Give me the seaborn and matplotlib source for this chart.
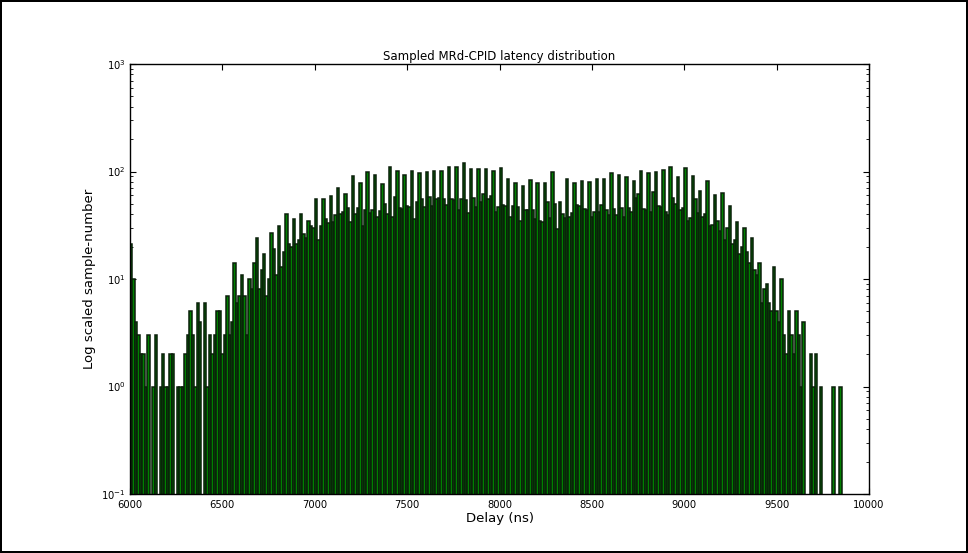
import numpy as np
import pandas as pd
import matplotlib
matplotlib.use("Agg")
import matplotlib.pyplot as plt
import seaborn as sns
from matplotlib.ticker import LogLocator, FixedLocator, NullFormatter

# Histogram layout: 300 equal bins spanning the delay window (ns)
BIN_START = 6000.0
BIN_STOP = 10000.0
N_BINS = 300

# Sample counts per bin
counts = [
    21, 10, 4, 3, 2, 2, 1, 3, 0, 1,
    3, 0, 1, 2, 1, 1, 2, 2, 0, 1,
    1, 1, 2, 3, 5, 3, 1, 6, 4, 0,
    6, 1, 3, 2, 3, 5, 5, 2, 3, 7,
    3, 4, 14, 6, 7, 11, 7, 3, 10, 8,
    14, 24, 8, 12, 17, 7, 10, 27, 19, 11,
    31, 13, 18, 40, 21, 20, 36, 21, 23, 40,
    26, 24, 35, 31, 30, 56, 23, 31, 55, 36,
    33, 59, 34, 39, 70, 40, 42, 62, 46, 34,
    90, 40, 46, 78, 31, 44, 100, 41, 44, 92,
    38, 43, 76, 50, 40, 110, 38, 58, 102, 46,
    45, 93, 48, 47, 102, 36, 52, 96, 56, 47,
    100, 58, 48, 102, 56, 57, 102, 55, 49, 111,
    56, 54, 110, 44, 55, 120, 54, 41, 106, 57,
    47, 106, 52, 62, 106, 55, 59, 102, 42, 47,
    108, 49, 48, 85, 38, 48, 79, 47, 35, 73,
    44, 44, 84, 44, 36, 79, 35, 34, 78, 52,
    37, 100, 50, 29, 52, 40, 37, 86, 38, 41,
    78, 49, 48, 81, 45, 44, 80, 38, 42, 85,
    42, 49, 85, 44, 39, 96, 45, 39, 93, 46,
    38, 88, 46, 42, 82, 57, 62, 102, 45, 44,
    96, 42, 64, 100, 48, 47, 104, 42, 39, 110,
    57, 50, 88, 44, 46, 107, 35, 37, 90, 56,
    41, 66, 38, 40, 82, 31, 32, 60, 35, 28,
    63, 23, 30, 48, 21, 23, 34, 17, 20, 30,
    18, 14, 24, 12, 11, 14, 6, 8, 9, 6,
    5, 13, 5, 4, 10, 3, 2, 5, 3, 2,
    5, 3, 1, 4, 0, 0, 2, 1, 2, 0,
    1, 0, 0, 0, 0, 1, 0, 0, 1, 0,
    0, 0, 0, 0, 0, 0, 0, 0, 0, 0,
]
assert len(counts) == N_BINS

x_ticks = [6000, 6500, 7000, 7500, 8000, 8500, 9000, 9500, 10000]
y_limits = (1e-1, 1e3)

title = "Sampled MRd-CPID latency distribution"
x_label = "Delay (ns)"
y_label = "Log scaled sample-number"

edges = np.linspace(BIN_START, BIN_STOP, N_BINS + 1)
centers = 0.5 * (edges[:-1] + edges[1:])
df = pd.DataFrame({"delay": centers, "count": counts})

sns.set_style("ticks")
plt.rcParams.update({
    "font.family": ["DejaVu Sans"],
    "axes.edgecolor": "black",
    "axes.linewidth": 1.0,
    "xtick.color": "black",
    "ytick.color": "black",
    "text.color": "black",
    "axes.labelcolor": "black",
})

W, H = 968, 553
fig = plt.figure(figsize=(W / 100, H / 100), dpi=100)
ax = fig.add_axes([130 / W, 1 - 494 / H, 739 / W, 430 / H])

sns.histplot(
    data=df, x="delay", weights="count",
    bins=N_BINS, binrange=(BIN_START, BIN_STOP),
    color="#008000", edgecolor="#0a1f0a", linewidth=1.1, alpha=1.0, ax=ax,
)

ax.set_yscale("log")
ax.set_ylim(*y_limits)
ax.set_xlim(BIN_START, BIN_STOP)

ax.xaxis.set_major_locator(FixedLocator(x_ticks))
ax.set_xticklabels([str(t) for t in x_ticks])
ax.yaxis.set_major_locator(LogLocator(base=10, numticks=10))
ax.yaxis.set_minor_locator(LogLocator(base=10, subs=np.arange(2, 10), numticks=100))
ax.yaxis.set_minor_formatter(NullFormatter())

ax.tick_params(which="both", direction="in", top=True, right=True,
               labelsize=7.2)
ax.tick_params(axis="x", pad=4)
ax.tick_params(axis="y", pad=3)
ax.tick_params(which="major", length=4, width=0.8)
ax.tick_params(which="minor", length=2, width=0.6)
for s in ax.spines.values():
    s.set_visible(True)
    s.set_color("black")

ax.set_title(title, fontsize=8.5, pad=3)
ax.set_xlabel(x_label, fontsize=9.5, labelpad=2)
ax.set_ylabel(y_label, fontsize=9.5, labelpad=4)

fig.patch.set_facecolor("white")
fig.patch.set_edgecolor("black")
fig.patch.set_linewidth(1.5)

fig.savefig("out.png", dpi=100, facecolor="white", edgecolor="black")
